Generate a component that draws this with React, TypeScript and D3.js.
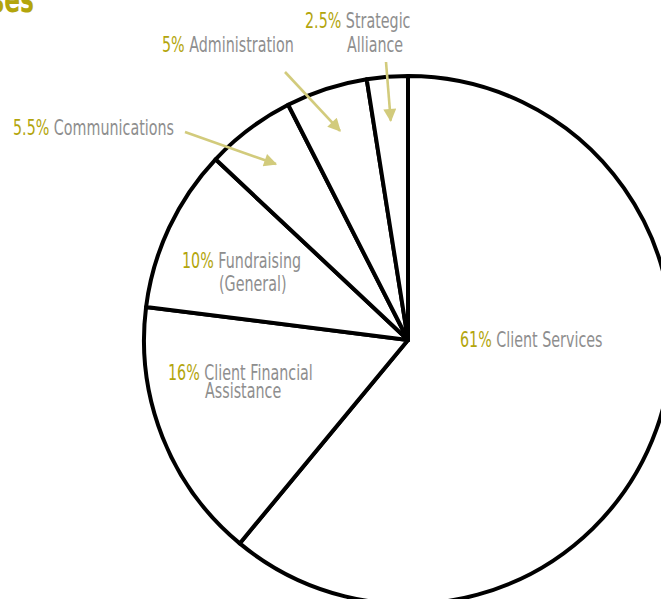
import React from "react";
import * as d3 from "d3";

const categories = ["Client Services", "Client Financial Assistance", "Fundraising (General)", "Communications", "Administration", "Strategic Alliance"];
const values = [61, 16, 10, 5.5, 5, 2.5];
const percentLabels = ["61%", "16%", "10%", "5.5%", "5%", "2.5%"];
const nameLines = [["Client Services"], ["Client Financial", "Assistance"], ["Fundraising", "(General)"], ["Communications"], ["Administration"], ["Strategic", "Alliance"]];
const title = "Expenses";

const W = 661, H = 599;
const cx = 408, cy = 340, R = 264;
const OLIVE = "#b3a50c";
const GRAY = "#8e8e8e";
const ARROW = "#d2cb7c";
const FONT = "'DejaVu Sans', sans-serif";
const SX = 0.65;

// layout: label anchor (x of first line start, baseline y), second line x, line gap, arrow start
const layout = [
  { x: 460, y: 347, x2: 0, gap: 0, arrow: null },
  { x: 168, y: 380, x2: 205, gap: 18, arrow: null },
  { x: 182, y: 268, x2: 219, gap: 23, arrow: null },
  { x: 13, y: 135, x2: 0, gap: 0, arrow: [185, 132] },
  { x: 162, y: 52, x2: 0, gap: 0, arrow: [285, 72] },
  { x: 305, y: 28, x2: 347, gap: 24, arrow: [386, 62] },
];

export default function App() {
  const pie = d3.pie<number>().sort(null).value((d) => d)(values);
  const arc = d3.arc<d3.PieArcDatum<number>>().innerRadius(0).outerRadius(R);
  const tipR = 220;
  return (
    <svg width={W} height={H} style={{ position: "absolute", left: 0, top: 0, background: "#fff" }}>
      <defs>
        <marker id="ah" viewBox="0 0 10 10" refX="9" refY="5" markerWidth="6.5" markerHeight="5" orient="auto" markerUnits="strokeWidth">
          <path d="M0,0 L10,5 L0,10 z" fill={ARROW} />
        </marker>
      </defs>
      <g transform={`translate(34,12) scale(${SX},1)`}>
        <text x={0} y={0} textAnchor="end" fontFamily={FONT} fontWeight="bold" fontSize={36} fill={OLIVE}>{title}</text>
      </g>
      <g transform={`translate(${cx},${cy})`}>
        {pie.map((p, i) => (
          <path key={categories[i]} d={arc(p) || ""} fill="#fff" stroke="#000" strokeWidth={4} strokeLinejoin="round" />
        ))}
      </g>
      {pie.map((p, i) => {
        const L = layout[i];
        if (!L.arrow) return null;
        const a = (p.startAngle + p.endAngle) / 2;
        const tx = cx + Math.sin(a) * tipR;
        const ty = cy - Math.cos(a) * tipR;
        return (
          <line key={"a" + i} x1={L.arrow[0]} y1={L.arrow[1]} x2={tx} y2={ty} stroke={ARROW} strokeWidth={2.6} markerEnd="url(#ah)" />
        );
      })}
      {values.map((v, i) => {
        const L = layout[i];
        const lines = nameLines[i];
        return (
          <g key={"t" + i} fontFamily={FONT} fontSize={22}>
            <g transform={`translate(${L.x},${L.y}) scale(${SX},1)`}>
              <text x={0} y={0}>
                <tspan fill={OLIVE}>{percentLabels[i]}</tspan>
                <tspan fill={GRAY}>{" " + lines[0]}</tspan>
              </text>
            </g>
            {lines[1] && (
              <g transform={`translate(${L.x2},${L.y + L.gap}) scale(${SX},1)`}>
                <text x={0} y={0} fill={GRAY}>{lines[1]}</text>
              </g>
            )}
          </g>
        );
      })}
    </svg>
  );
}
